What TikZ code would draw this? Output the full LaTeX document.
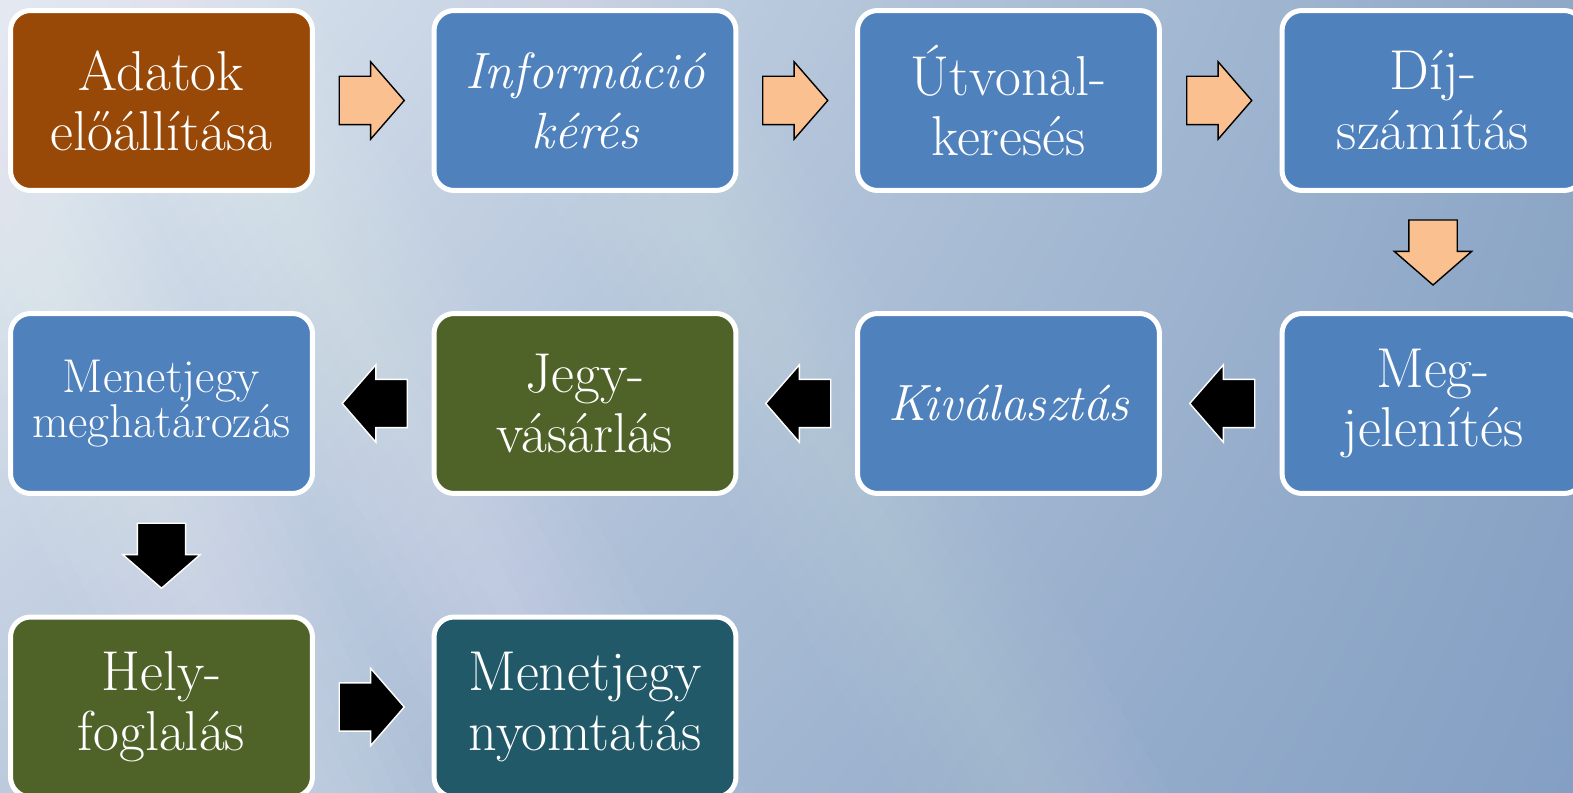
\documentclass[tikz,border=0pt]{standalone}
\usepackage{fontspec}
\usetikzlibrary{shapes.arrows,calc,shadings}
\definecolor{bgtl}{HTML}{E2E9F2}
\definecolor{bgtr}{HTML}{8FA8C7}
\definecolor{bgbl}{HTML}{BCCADD}
\definecolor{bgbr}{HTML}{839FC3}
\definecolor{brownbox}{HTML}{984807}
\definecolor{bluebox}{HTML}{4F81BD}
\definecolor{greenbox}{HTML}{4F6228}
\definecolor{tealbox}{HTML}{215968}
\definecolor{peach}{HTML}{FAC090}
\begin{document}
\begin{tikzpicture}[x = 0.02cm, y = -0.02cm,
    box/.style = {draw = white, line width = 0.1cm, rounded corners = 0.4cm,
                  text = white, minimum width = 6.04cm, minimum height = 3.6cm,
                  align = center, font = \fontsize{32}{34}\selectfont},
    itbox/.style = {box, font = \fontsize{29}{34}\selectfont\itshape},
    blockarrow/.style = {single arrow, minimum height = 1.3cm,
                  single arrow head extend = 0.29cm,
                  single arrow tip angle = 98, line width = 0.8pt},
    rarrow/.style = {blockarrow, inner xsep = 0pt, inner ysep = 0.47cm, xshift = -0.24cm},
    larrow/.style = {blockarrow, inner xsep = 0pt, inner ysep = 0.47cm, xshift = 0.24cm,
                  shape border rotate = 180},
    darrow/.style = {blockarrow, inner xsep = 0.47cm, inner ysep = 0pt, yshift = 0.2cm,
                  shape border rotate = 270},
    peach/.style = {draw = black, fill = peach},
    dark/.style = {draw = white, fill = black}]
    % background
    \useasboundingbox (0, 0) rectangle (1573, 793);
    \shade [upper left = bgtl, upper right = bgtr, lower left = bgbl, lower right = bgbr]
        (0, 0) rectangle (1573, 793);
    % soft light streaks
    \foreach \w in {15, 35, ..., 135} {
        \fill [white, opacity = 0.035] (-95 - \w, 0) -- (-95 + \w, 0) -- (302 + \w, 793) -- (302 - \w, 793) -- cycle;
        \fill [white, opacity = 0.03] (172 - \w, 0) -- (172 + \w, 0) -- (612 + \w, 793) -- (612 - \w, 793) -- cycle;
        \fill [white, opacity = 0.018] (568 - \w, 0) -- (568 + \w, 0) -- (1035 + \w, 793) -- (1035 - \w, 793) -- cycle;
    }
    % boxes
    \node [box, fill = brownbox] (adat) at (161.5, 100.5) {Adatok\\előállítása};
    \node [itbox, fill = bluebox] (info) at (585, 100.5) {Információ\\kérés};
    \node [box, fill = bluebox] (utv) at (1008.5, 100.5) {Útvonal-\\keresés};
    \node [box, fill = bluebox] (dij) at (1433, 100.5) {Díj-\\számítás};
    \node [box, fill = bluebox] (megj) at (1433, 403.5) {Meg-\\jelenítés};
    \node [itbox, fill = bluebox] (kiv) at (1008.5, 403.5) {Kiválasztás};
    \node [box, fill = greenbox] (vas) at (585, 403.5) {Jegy-\\vásárlás};
    \node [box, fill = bluebox, font = \fontsize{27}{26}\selectfont] (menh) at (161.5, 403.5) {Menetjegy\\meghatározás};
    \node [box, fill = greenbox] (hely) at (161.5, 707) {Hely-\\foglalás};
    \node [box, fill = tealbox] (nyom) at (585, 707) {Menetjegy\\nyomtatás};
    % arrows
    \node [rarrow, peach] at ($(adat.east)!0.5!(info.west)$) {};
    \node [rarrow, peach] at ($(info.east)!0.5!(utv.west)$) {};
    \node [rarrow, peach] at ($(utv.east)!0.5!(dij.west)$) {};
    \node [darrow, peach] at ($(dij.south)!0.5!(megj.north)$) {};
    \node [larrow, dark] at ($(megj.west)!0.5!(kiv.east)$) {};
    \node [larrow, dark] at ($(kiv.west)!0.5!(vas.east)$) {};
    \node [larrow, dark] at ($(vas.west)!0.5!(menh.east)$) {};
    \node [darrow, dark] at ($(menh.south)!0.5!(hely.north)$) {};
    \node [rarrow, dark] at ($(hely.east)!0.5!(nyom.west)$) {};
\end{tikzpicture}
\end{document}
